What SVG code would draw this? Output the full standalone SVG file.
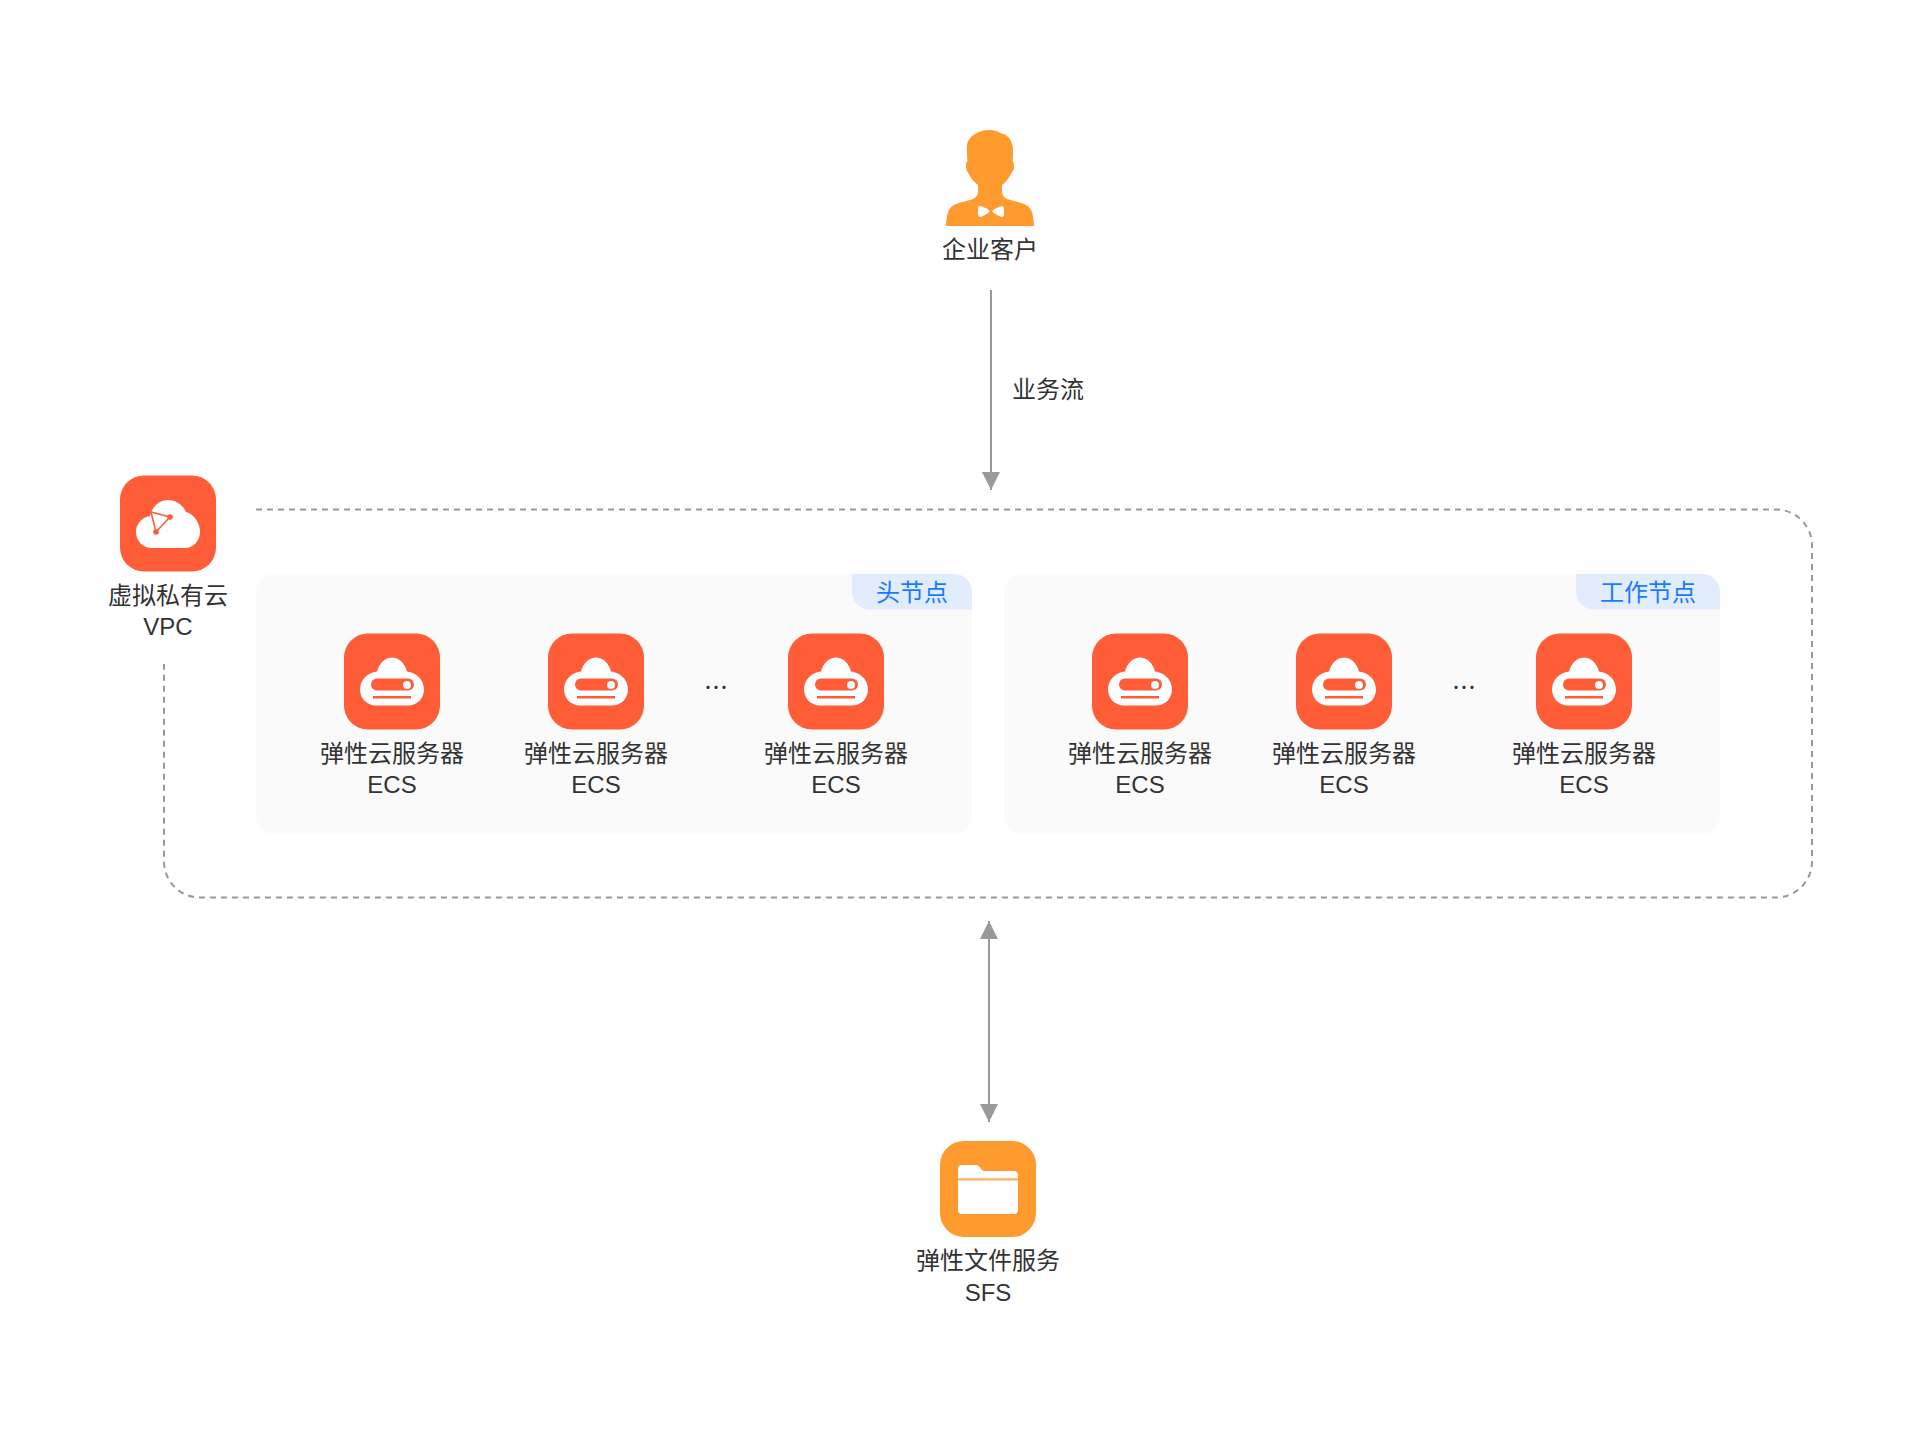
<svg xmlns="http://www.w3.org/2000/svg" xmlns:xlink="http://www.w3.org/1999/xlink" width="1908" height="1440" viewBox="0 0 1908 1440">
<style>
text{font-family:"Liberation Sans","Noto Sans CJK SC",sans-serif;font-size:24px;fill:#333;text-anchor:middle}
.dots{font-family:"Noto Sans CJK SC",sans-serif}
.tag{fill:#1a7aff}
.panel{fill:#fafafa}
.tagbg{fill:#e1ecfc}
.link{stroke:#999;stroke-width:2;fill:none}
.dash{stroke:#999;stroke-width:2;fill:none;stroke-dasharray:6 5}
.red{fill:#ff5c38}
.org{fill:#ff9a2e}
.w{fill:#fff}
</style>
<defs>
<marker id="ah" markerUnits="userSpaceOnUse" markerWidth="18" markerHeight="18" refX="18" refY="9" orient="auto-start-reverse"><path d="M0 0L18 9L0 18Z" fill="#999"/></marker>
<g id="ecs">
<rect width="96" height="96" rx="24" class="red"/>
<path class="w" d="M32 72C23 72 16 65 16 56C16 47 23 39 33 38C35 30 41 24 48 24C55 24 61 30 63 38C73 39 80 47 80 56C80 65 73 72 64 72Z"/>
<rect x="27" y="45" width="43" height="12" rx="6" class="red"/>
<circle cx="63" cy="51.500" r="4" class="w"/>
<rect x="29" y="62.500" width="38" height="2.500" class="red"/>
</g>
</defs>
<rect width="1908" height="1440" fill="#fff"/>

<g id="connectors">
<path class="dash" d="M256 509.500H1776A36 36 0 0 1 1812 545.500V861.500A36 36 0 0 1 1776 897.500H200A36 36 0 0 1 164 861.500V664"/>
<line class="link" x1="991" y1="290" x2="991" y2="490" marker-end="url(#ah)"/>
<line class="link" x1="989" y1="921" x2="989" y2="1122" marker-start="url(#ah)" marker-end="url(#ah)"/>
<text x="1048" y="398">业务流</text>
</g>

<g id="panel-head">
<rect class="panel" x="256" y="574" width="716" height="260" rx="18"/>
<path class="tagbg" d="M852 574H954A18 18 0 0 1 972 592V609.500H870A18 18 0 0 1 852 591.500Z"/>
<text class="tag" x="912" y="601">头节点</text>
<text class="dots" x="716" y="696">…</text>
</g>
<g id="panel-work">
<rect class="panel" x="1004" y="574" width="716" height="260" rx="18"/>
<path class="tagbg" d="M1576 574H1702A18 18 0 0 1 1720 592V609.500H1594A18 18 0 0 1 1576 591.500Z"/>
<text class="tag" x="1648" y="601">工作节点</text>
<text class="dots" x="1464" y="696">…</text>
</g>

<g id="customer">
<path class="org" d="M946 226C946.500 215 948 208 954 205C960 202 968 201 973 199C976 197.500 978 195 978 192V185C973 181 969 176 968 172C966 171 966 168 966 165C966 163 966.500 162 967.500 161C967 155 966.500 150 967 145C968 137 977 130 990 130C994 130 998 131 1000 133C1008 134 1013 141 1013 150C1013 154 1013 158 1012.500 161C1014 162 1014 165 1014 167C1014 170 1013 171 1012 172C1010 177 1006 182 1002 185V192C1002 195 1004 197.500 1007 199C1012 201 1020 202 1026 205C1032 208 1033.500 215 1034 226Z"/>
<path class="w" d="M978 209Q978 205 982 206.500Q987 208 990 211.500Q987 214.500 982 216.500Q978 218 978 214ZM1004 209Q1004 205 1000 206.500Q995 208 992 211.500Q995 214.500 1000 216.500Q1004 218 1004 214Z"/>
<text x="990" y="258">企业客户</text>
</g>

<g id="vpc">
<rect class="red" x="120" y="475.500" width="96" height="96" rx="24"/>
<path class="w" d="M152 548C143 548 136 541 136 532C136 524 142 517 150 516C152 507 159 500 168 500C176 500 183 505 186 512C194 514 200 523 200 532C200 541 193 548 185 548Z"/>
<path d="M151 512L170 517L156 532Z" fill="none" stroke="#ff5c38" stroke-width="1.600"/>
<circle cx="170" cy="517" r="2.800" class="red"/>
<circle cx="156" cy="532" r="2.800" class="red"/>
<text x="168" y="603.500">虚拟私有云</text>
<text x="168" y="635">VPC</text>
</g>

<g id="ecs-1"><use xlink:href="#ecs" href="#ecs" x="344" y="633.500"/><text x="392" y="761.500">弹性云服务器</text><text x="392" y="793">ECS</text></g>
<g id="ecs-2"><use xlink:href="#ecs" href="#ecs" x="548" y="633.500"/><text x="596" y="761.500">弹性云服务器</text><text x="596" y="793">ECS</text></g>
<g id="ecs-3"><use xlink:href="#ecs" href="#ecs" x="788" y="633.500"/><text x="836" y="761.500">弹性云服务器</text><text x="836" y="793">ECS</text></g>
<g id="ecs-4"><use xlink:href="#ecs" href="#ecs" x="1092" y="633.500"/><text x="1140" y="761.500">弹性云服务器</text><text x="1140" y="793">ECS</text></g>
<g id="ecs-5"><use xlink:href="#ecs" href="#ecs" x="1296" y="633.500"/><text x="1344" y="761.500">弹性云服务器</text><text x="1344" y="793">ECS</text></g>
<g id="ecs-6"><use xlink:href="#ecs" href="#ecs" x="1536" y="633.500"/><text x="1584" y="761.500">弹性云服务器</text><text x="1584" y="793">ECS</text></g>

<g id="sfs">
<rect class="org" x="940" y="1141" width="96" height="96" rx="24"/>
<path class="w" d="M958 1178.500V1169Q958 1165 962 1165H976Q978 1165 979.500 1167L982 1170Q983 1171 985 1171H1014Q1018 1171 1018 1175V1178.500Z"/>
<rect x="958" y="1178.500" width="60" height="2" fill="#ffb566"/>
<path class="w" d="M958 1180.500H1018V1210Q1018 1214 1014 1214H962Q958 1214 958 1210Z"/>
<text x="988" y="1269">弹性文件服务</text>
<text x="988" y="1301">SFS</text>
</g>
</svg>
